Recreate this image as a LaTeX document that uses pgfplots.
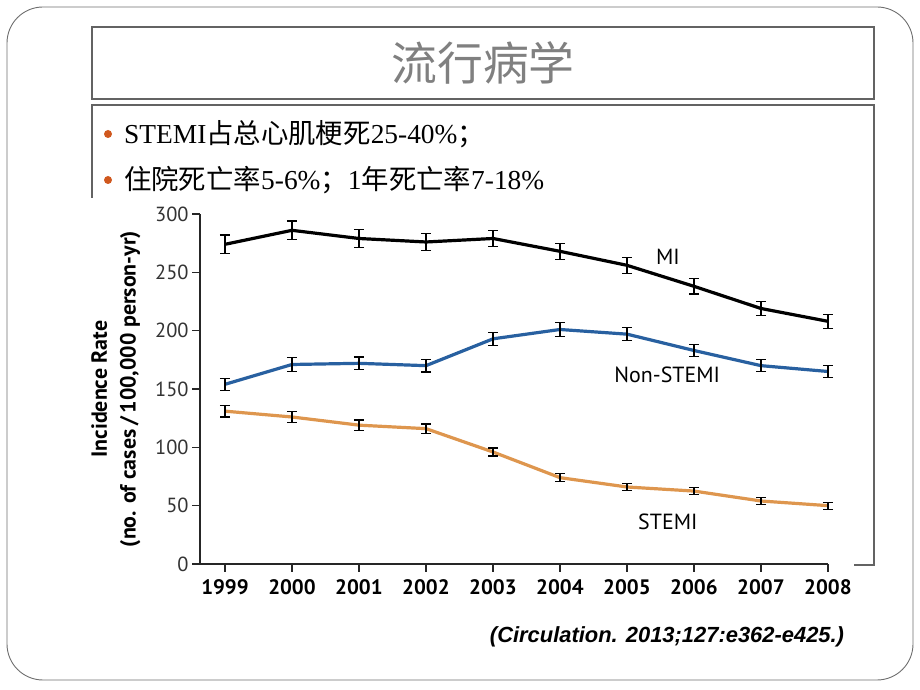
\documentclass[border=0pt]{standalone}
\usepackage{pgfplots}
\pgfplotsset{compat=1.18}
\usepackage{pgfplotstable}
\usepackage{fontspec}
\setmainfont{PT Sans}
\newfontfamily\cjk{Noto Sans CJK SC}
\newfontfamily\serl{Liberation Serif}
\newfontfamily\arial{Liberation Sans}
\definecolor{nstemi}{RGB}{40,96,160}
\definecolor{stemi}{RGB}{222,150,78}
\definecolor{bul}{RGB}{208,88,30}
\definecolor{frm}{RGB}{110,110,110}

\pgfplotstableread{
x y e
1999 274 8
2000 286 8
2001 279 7.5
2002 276 7
2003 279 7
2004 268 7
2005 256 7
2006 238 6.5
2007 219 6
2008 208 6
}\mi
\pgfplotstableread{
x y e
1999 154 5
2000 171 6
2001 172 5.5
2002 170 5.5
2003 193 5.5
2004 201 6
2005 197 5.5
2006 183 5
2007 170 5
2008 165 5
}\nonstemi
\pgfplotstableread{
x y e
1999 131 5
2000 126 5
2001 119 4.5
2002 116 4
2003 96 3.5
2004 74 3.5
2005 66 3
2006 62.5 3
2007 54 3
2008 50 3
}\stemi

\begin{document}
\begin{tikzpicture}
\begin{scope}[x=1bp,y=1bp]
\useasboundingbox (0,0) rectangle (920,690);
% slide frame
\draw[frm, line width=0.9bp, rounded corners=36bp] (7,683) rectangle (913,10);
% title box
\draw[frm!90!black, line width=1.2bp] (92,663) rectangle (874,591);
\node[text=black!50, font=\cjk\fontsize{46}{50}\selectfont] at (483,627) {流行病学};
% bullet box
\draw[frm!90!black, line width=1.2bp] (92,492) -- (92,585) -- (874,585) -- (874,125) -- (854,125);
\fill[bul] (108,556) circle (4bp);
\fill[bul] (108,510) circle (4bp);
\node[anchor=west, inner sep=0pt, font=\fontsize{27.5}{30}\selectfont] at (124,556)
  {{\serl STEMI}{\cjk 占总心肌梗死}{\serl 25-40\%}{\cjk ；}};
\node[anchor=west, inner sep=0pt, font=\fontsize{27.5}{30}\selectfont] at (124,510)
  {{\cjk 住院死亡率}{\serl 5-6\%}{\cjk ；}{\serl 1}{\cjk 年死亡率}{\serl 7-18\%}};
% citation
\node[font=\arial\bfseries\itshape\fontsize{22}{26}\selectfont] at (667,53)
  {(Circulation. 2013;127:e362-e425.)};
\end{scope}

\begin{axis}[
  at={(200bp,126bp)}, anchor=south west,
  width=628bp, height=350bp, scale only axis,
  xmin=1998.627, xmax=2008, ymin=0, ymax=300,
  axis lines=left, axis line style={-, line width=1.3bp, black!85},
  xtick={1999,...,2008}, ytick={0,50,...,300},
  tick align=outside, major tick length=8bp,
  tick style={line width=1.3bp, black!85},
  /pgf/number format/assume math mode=true,
  xticklabel style={font=\bfseries\fontsize{21}{24}\selectfont, yshift=-4bp},
  xticklabel={\pgfmathprintnumber[1000 sep={},fixed,precision=0]{\tick}},
  yticklabel style={font=\fontsize{20.5}{24}\selectfont, text=black!80},
  ylabel={Incidence Rate\\(no. of cases\,/\,100,000 person-yr)},
  ylabel style={align=center, font=\bfseries\fontsize{22}{29}\selectfont, at={(axis description cs:-0.134,0.5)}, anchor=center},
  clip=false,
  error bars/y dir=both, error bars/y explicit,
  error bars/error bar style={line width=1.2bp, black},
  error bars/error mark options={rotate=90, mark size=5bp, line width=1.2bp, black},
]
\addplot[black, line width=3.2bp] table[x=x, y=y, y error=e] {\mi};
\addplot[nstemi, line width=3.2bp] table[x=x, y=y, y error=e] {\nonstemi};
\addplot[stemi, line width=3.2bp] table[x=x, y=y, y error=e] {\stemi};
\node[font=\fontsize{22}{24}\selectfont] at (axis cs:2005.61,263) {MI};
\node[font=\fontsize{22}{24}\selectfont] at (axis cs:2005.6,162) {Non-STEMI};
\node[font=\fontsize{22}{24}\selectfont] at (axis cs:2005.61,36) {STEMI};
\end{axis}
\end{tikzpicture}
\end{document}
